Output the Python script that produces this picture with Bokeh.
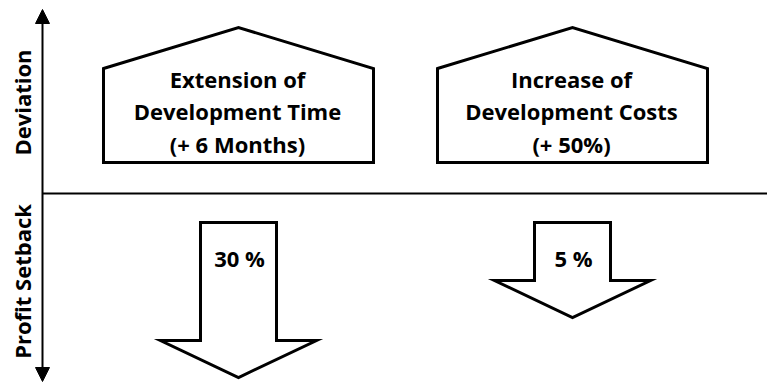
import math
from bokeh.plotting import figure
from bokeh.models import Range1d, Arrow, NormalHead
from bokeh.core.properties import value
from bokeh.embed import file_html
from bokeh.resources import INLINE

# ---- data ----
categories = ["Extension of\nDevelopment Time\n(+ 6 Months)",
              "Increase of\nDevelopment Costs\n(+ 50%)"]
setback_pct = [30, 5]
setback_labels = ["30 %", "5 %"]
axis_labels = ["Deviation", "Profit Setback"]

W, H = 767, 382
FONT = value("Open Sans")
FS = "22px"

p = figure(width=W, height=H, output_backend="svg", toolbar_location=None,
           x_range=Range1d(0, W), y_range=Range1d(H, 0), min_border=0)
p.axis.visible = False
p.grid.visible = False
p.outline_line_color = None
p.background_fill_color = "white"
p.border_fill_color = "white"

# layout scale (pixel-like data units)
x0, dx = 238, 334          # category centres
house_half, apex_y, shoulder_y, house_bottom = 135, 27, 68, 162
shaft_half, head_half, arrow_top, head_h = 38, 78, 222, 37
axis_x, split_y = 42, 193

def arrow_len(pct):
    return 83 + 2.4 * pct

# axes
p.line([axis_x, W], [split_y, split_y], line_color="black", line_width=2)
p.add_layout(Arrow(end=NormalHead(size=14, fill_color="black", line_color="black", line_width=1),
                   start=NormalHead(size=14, fill_color="black", line_color="black", line_width=1),
                   x_start=axis_x, y_start=H - 1, x_end=axis_x, y_end=9,
                   line_color="black", line_width=2))

p.text(x=[21], y=[102], text=[axis_labels[0]], angle=math.pi / 2,
       text_font=FONT, text_font_style="bold", text_font_size=FS,
       text_align="center", text_baseline="middle", text_color="black")
p.text(x=[21], y=[281], text=[axis_labels[1]], angle=math.pi / 2,
       text_font=FONT, text_font_style="bold", text_font_size=FS,
       text_align="center", text_baseline="middle", text_color="black")

for i, (cat, pct, lab) in enumerate(zip(categories, setback_pct, setback_labels)):
    cx = x0 + i * dx
    # house shape
    hx = [cx - house_half, cx, cx + house_half, cx + house_half, cx - house_half]
    hy = [shoulder_y, apex_y, shoulder_y, house_bottom, house_bottom]
    p.patch(hx, hy, fill_color="white", line_color="black", line_width=3, line_join="miter")
    lines = cat.split("\n")
    p.text(x=[cx - 1] * len(lines), y=[78 + 32.5 * k for k in range(len(lines))], text=lines,
           text_font=FONT, text_font_style="bold", text_font_size=FS,
           text_align="center", text_baseline="middle", text_color="black")
    # down arrow
    tip = arrow_top + arrow_len(pct)
    sh = tip - head_h
    ax = [cx - shaft_half, cx + shaft_half, cx + shaft_half, cx + head_half, cx,
          cx - head_half, cx - shaft_half]
    ay = [arrow_top, arrow_top, sh, sh, tip, sh, sh]
    p.patch(ax, ay, fill_color="white", line_color="black", line_width=3, line_join="miter")
    p.text(x=[cx + 1], y=[257], text=[lab],
           text_font=FONT, text_font_style="bold", text_font_size=FS,
           text_align="center", text_baseline="middle", text_color="black")

open("out.html", "w").write(file_html(p, INLINE))
